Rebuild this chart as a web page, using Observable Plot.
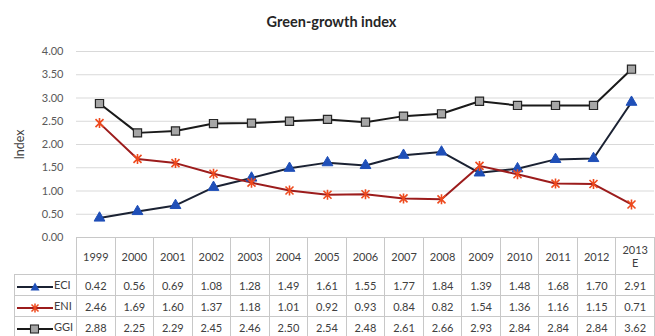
<!DOCTYPE html>
<html>
<head>
<meta charset="utf-8">
<script src="https://cdn.jsdelivr.net/npm/d3@7"></script>
<script src="https://cdn.jsdelivr.net/npm/@observablehq/plot@0.6"></script>
<style>
  html, body { margin: 0; padding: 0; background: #fff; }
  #wrap { position: relative; width: 655px; height: 336px; overflow: hidden; font-family: Lato, "Open Sans", sans-serif; color: #404040; }
  #title { position: absolute; left: 0; width: 663px; top: 13px; text-align: center; font-weight: bold; font-size: 14.5px; color: #262626; }
  #chart { position: absolute; left: 0; top: 0; }
  #chart svg { overflow: visible; }
  table { position: absolute; left: 14px; top: 237px; border-collapse: collapse; table-layout: fixed; font-size: 11px; color: #404040; }
  td { border: 1px solid #c8c8c8; text-align: center; padding: 0; height: 20px; white-space: nowrap; }
  tr.head td { height: 36px; line-height: 13px; }
  tr.head td.corner { border: none; border-right: 1px solid #c8c8c8; }
  td.lab { text-align: left; padding-left: 1px; }
  td.lab svg { vertical-align: middle; }
</style>
</head>
<body>
<div id="wrap">
  <div id="title">Green-growth index</div>
  <div id="chart"></div>
  <table id="tbl"></table>
</div>
<script>
const years = ["1999","2000","2001","2002","2003","2004","2005","2006","2007","2008","2009","2010","2011","2012","2013 E"];
const eci = [0.42,0.56,0.69,1.08,1.28,1.49,1.61,1.55,1.77,1.84,1.39,1.48,1.68,1.70,2.91];
const eni = [2.46,1.69,1.60,1.37,1.18,1.01,0.92,0.93,0.84,0.82,1.54,1.36,1.16,1.15,0.71];
const ggi = [2.88,2.25,2.29,2.45,2.46,2.50,2.54,2.48,2.61,2.66,2.93,2.84,2.84,2.84,3.62];
const seriesNames = ["ECI","ENI","GGI"];
const yTicks = [0,0.5,1,1.5,2,2.5,3,3.5,4];

const toRows = (vals) => years.map((y, i) => ({year: y, value: vals[i]}));
const eciData = toRows(eci), eniData = toRows(eni), ggiData = toRows(ggi);

const starSymbol = {
  draw(ctx, size) {
    const r = Math.sqrt(size / Math.PI);
    const d = r * 0.8;
    ctx.moveTo(-d, -d); ctx.lineTo(d, d);
    ctx.moveTo(d, -d); ctx.lineTo(-d, d);
    ctx.moveTo(0, -r); ctx.lineTo(0, r);
  }
};

const chart = Plot.plot({
  width: 655,
  height: 238,
  marginTop: 51,
  marginBottom: 1,
  marginLeft: 76,
  marginRight: 1,
  style: {fontFamily: "Lato, 'Open Sans', sans-serif", overflow: "visible"},
  x: {type: "point", domain: years, padding: 0.5, axis: null},
  y: {domain: [0, 4]},
  marks: [
    Plot.ruleY(yTicks.filter(d => d > 0), {stroke: "#d9d9d9", strokeWidth: 1}),
    Plot.axisY(yTicks, {tickSize: 0, tickPadding: 13, tickFormat: d => d.toFixed(2), fontSize: 11, color: "#595959", label: null}),
    Plot.axisY({ticks: [], tickSize: 0, label: "Index", labelAnchor: "center", labelArrow: "none", labelOffset: 61, fontSize: 12.5, color: "#404040"}),
    Plot.line(ggiData, {x: "year", y: "value", stroke: "#1a1a1a", strokeWidth: 2}),
    Plot.line(eciData, {x: "year", y: "value", stroke: "#1b2233", strokeWidth: 2}),
    Plot.line(eniData, {x: "year", y: "value", stroke: "#9c1c1c", strokeWidth: 2}),
    Plot.dot(ggiData, {x: "year", y: "value", symbol: "square", r: 4.6, fill: "#a6a6a6", stroke: "#262626", strokeWidth: 1.2}),
    Plot.dot(eciData, {x: "year", y: "value", symbol: "triangle", r: 4, fill: "#1f4fb8", stroke: "#1f4fb8", strokeWidth: 1}),
    Plot.dot(eniData, {x: "year", y: "value", symbol: starSymbol, r: 5, fill: "none", stroke: "#ee4a1e", strokeWidth: 1.6})
  ]
});
document.getElementById("chart").appendChild(chart);

// table
const legendSvg = {
  ECI: '<svg width="38" height="10"><line x1="1" y1="5" x2="37" y2="5" stroke="#1b2233" stroke-width="2"/><path d="M19,0.5 L23.5,8.5 L14.5,8.5Z" fill="#1f4fb8"/></svg>',
  ENI: '<svg width="38" height="10"><line x1="1" y1="5" x2="37" y2="5" stroke="#9c1c1c" stroke-width="2"/><path d="M15.5,1.5 L22.5,8.5 M22.5,1.5 L15.5,8.5 M19,0.5 L19,9.5" stroke="#ee4a1e" stroke-width="1.5" fill="none"/></svg>',
  GGI: '<svg width="38" height="10"><line x1="1" y1="5" x2="37" y2="5" stroke="#1a1a1a" stroke-width="2"/><rect x="14.5" y="1" width="8" height="8" fill="#a6a6a6" stroke="#262626" stroke-width="1.1"/></svg>'
};
const colW = 578 / 15;
const tbl = document.getElementById("tbl");
tbl.style.width = (62 + 578) + "px";
let html = '<colgroup><col style="width:62px">' + years.map(() => `<col style="width:${colW}px">`).join("") + '</colgroup>';
html += '<tr class="head"><td class="corner"></td>' + years.map(y => `<td>${y.replace(" ", "<br>")}</td>`).join("") + '</tr>';
const vals = {ECI: eci, ENI: eni, GGI: ggi};
for (const s of seriesNames) {
  html += `<tr><td class="lab">${legendSvg[s]}${s}</td>` + vals[s].map(v => `<td>${v.toFixed(2)}</td>`).join("") + '</tr>';
}
tbl.innerHTML = html;
</script>
</body>
</html>
